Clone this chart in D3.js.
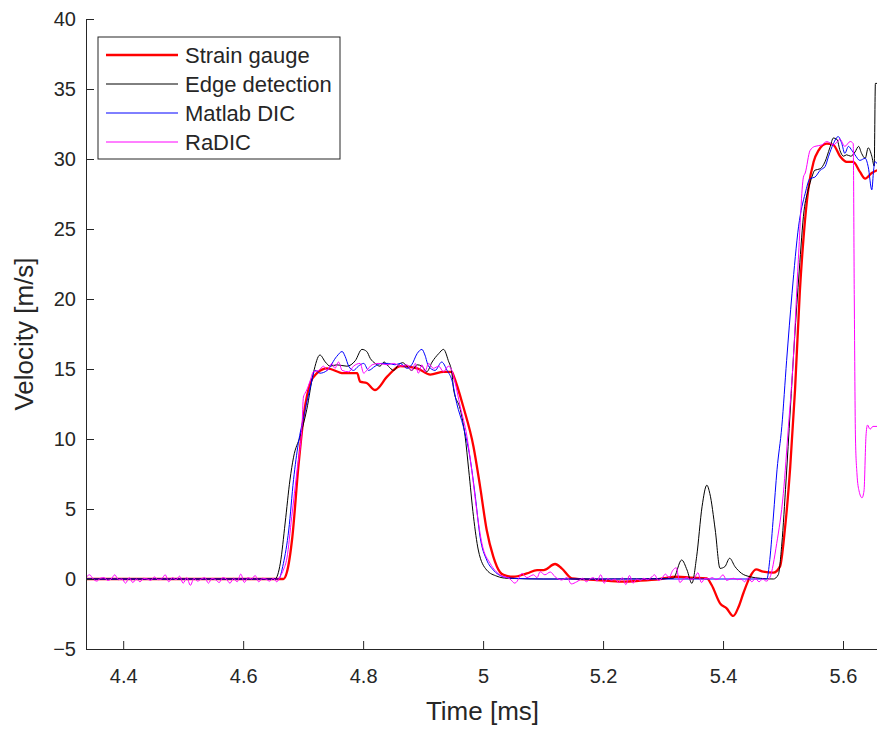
<!DOCTYPE html>
<html>
<head>
<meta charset="utf-8">
<script src="https://cdn.jsdelivr.net/npm/d3@7"></script>
<style>
  body { margin: 0; background: #fff; }
  svg text { font-family: "Liberation Sans", Arial, Helvetica, sans-serif; fill: #262626; }
  .axis path, .axis line { stroke: #262626; stroke-width: 1; }
  .axis text { font-size: 20px; }
  .series { fill: none; stroke-linejoin: round; }
</style>
</head>
<body>
<div class="graph"></div>
<script>
// Strain gauge
var sgTime = [4.338, 4.45, 4.55, 4.62, 4.667, 4.673, 4.682, 4.692, 4.702, 4.712, 4.723, 4.740, 4.767, 4.790, 4.795, 4.806, 4.820, 4.840, 4.862, 4.890,
              4.912, 4.934, 4.948, 4.951, 4.967, 4.984, 4.995, 5.006, 5.017, 5.028, 5.034, 5.050, 5.073, 5.090, 5.101, 5.120, 5.131, 5.148, 5.190, 5.234,
              5.262, 5.295, 5.323, 5.345, 5.373, 5.381, 5.395, 5.406, 5.417, 5.426, 5.434, 5.445, 5.455, 5.467, 5.484, 5.495, 5.503, 5.512, 5.520, 5.528,
              5.535, 5.542, 5.551, 5.559, 5.573, 5.584, 5.595, 5.606, 5.617, 5.628, 5.637, 5.648, 5.657];
var sgVel = [0, 0, 0, 0, 0, 0.5, 3, 8, 12, 14, 14.7, 15.05, 14.7, 14.7, 14.1, 14.0, 13.5, 14.45, 15.2, 15.05,
             14.6, 14.8, 14.8, 14.5, 12.3, 9.45, 6.6, 3.5, 1.6, 0.5, 0.3, 0.16, 0.4, 0.64, 0.64, 1.07, 0.76, 0.05, -0.07, -0.19,
             -0.12, 0, 0.16, 0.1, 0.05, -0.43, -1.74, -2.1, -2.64, -1.98, -1.0, 0.16, 0.69, 0.52, 0.45, 0.9, 3.5, 8, 13.5, 20.5,
             24.8, 27.8, 29.8, 30.6, 31.1, 31.0, 30.2, 29.8, 29.8, 29.1, 28.6, 29.0, 29.2];

// Edge detection
var edTime = [4.338, 4.50, 4.62, 4.653, 4.662, 4.670, 4.678, 4.684, 4.695, 4.706, 4.717, 4.728, 4.737, 4.745, 4.756, 4.773, 4.787, 4.798, 4.806, 4.812,
              4.820, 4.828, 4.835, 4.842, 4.851, 4.859, 4.866, 4.873, 4.881, 4.890, 4.898, 4.906, 4.915, 4.926, 4.934, 4.942, 4.948, 4.951, 4.962, 4.970,
              4.976, 4.984, 4.992, 5.006, 5.023, 5.040, 5.10, 5.20, 5.317, 5.331, 5.340, 5.348, 5.356, 5.365, 5.373, 5.378, 5.387, 5.395, 5.403, 5.411,
              5.420, 5.431, 5.445, 5.462, 5.484, 5.492, 5.498, 5.505, 5.512, 5.519, 5.527, 5.535, 5.542, 5.548, 5.553, 5.562, 5.570, 5.578, 5.584, 5.590,
              5.595, 5.601, 5.606, 5.613, 5.620, 5.626, 5.631, 5.637, 5.642, 5.648, 5.652, 5.654, 5.660];
var edVel = [0, 0, 0, 0, 1.14, 4, 7.07, 8.7, 10.2, 12.1, 14.7, 16.0, 15.5, 15.2, 15.3, 15.2, 15.6, 16.4, 16.25, 15.75,
             15.4, 15.2, 15.5, 15.2, 14.9, 15.3, 15.45, 15.2, 14.9, 15.3, 15.2, 14.8, 15.5, 16.1, 16.4, 15.6, 14.7, 13.5, 12.1, 10.2,
             7.8, 4.45, 2.07, 0.64, 0.2, 0.05, 0, 0, 0.05, 1.36, 0.64, -0.31, 1.6, 5.16, 6.7, 6.1, 3.5, 0.76, 0.88, 1.48,
             0.88, 0.4, 0.16, 0.05, 0, 0.3, 2.5, 7, 12, 17, 22, 26.3, 27.8, 28.7, 29.2, 29.3, 29.8, 30.8, 31.5, 31.4,
             30.6, 30.2, 30.3, 30.2, 30.5, 30.9, 30.4, 30.05, 30.8, 30.2, 29.5, 35.4, 35.4];

// Matlab DIC
var dicTime = [4.338, 4.50, 4.62, 4.659, 4.667, 4.676, 4.684, 4.692, 4.701, 4.712, 4.720, 4.728, 4.740, 4.756, 4.765, 4.770, 4.776, 4.784, 4.792, 4.801,
               4.809, 4.820, 4.831, 4.842, 4.853, 4.862, 4.873, 4.881, 4.890, 4.898, 4.903, 4.909, 4.920, 4.931, 4.940, 4.948, 4.956, 4.967, 4.978, 4.987,
               4.995, 5.006, 5.017, 5.034, 5.051, 5.10, 5.30, 5.473, 5.478, 5.484, 5.490, 5.498, 5.506, 5.515, 5.526, 5.537, 5.545, 5.553, 5.562, 5.570,
               5.576, 5.584, 5.592, 5.598, 5.603, 5.609, 5.615, 5.620, 5.628, 5.637, 5.642, 5.648, 5.651, 5.653, 5.660];
var dicVel = [0, 0, 0, 0, 1.1, 3.5, 7.1, 9.7, 11.6, 13.7, 14.9, 14.7, 14.9, 15.9, 16.25, 15.9, 15.2, 14.9, 15.2, 15.4,
              14.9, 15.2, 15.4, 15.4, 15.3, 15.4, 15.05, 15.3, 16.1, 16.4, 16.0, 15.2, 14.9, 15.5, 14.9, 14.2, 12.55, 10.9, 8.7, 5.9,
              3.0, 1.36, 0.64, 0.16, 0.05, 0, 0, 0, 1.4, 4.5, 7.8, 10.9, 15.6, 20.4, 25.2, 27.55, 28.6, 28.7, 29.2, 29.45,
              30.2, 31.1, 31.6, 31.1, 30.4, 30.9, 30.6, 30.3, 29.9, 30.05, 29.45, 27.8, 29.2, 29.8, 29.5];

// RaDIC
var raTime = [4.338, 4.344, 4.350, 4.356, 4.362, 4.368, 4.374, 4.380, 4.386, 4.392, 4.398, 4.404, 4.410, 4.416, 4.422, 4.428, 4.434, 4.440, 4.446, 4.452,
              4.458, 4.464, 4.470, 4.476, 4.482, 4.488, 4.494, 4.500, 4.506, 4.512, 4.518, 4.524, 4.530, 4.536, 4.542, 4.548, 4.554, 4.560, 4.566, 4.572,
              4.578, 4.584, 4.590, 4.596, 4.602, 4.608, 4.614, 4.620, 4.626, 4.632, 4.638, 4.644, 4.650, 4.656,
              4.662, 4.667, 4.673, 4.681, 4.690, 4.698, 4.7005, 4.703, 4.706, 4.712, 4.717, 4.726, 4.734, 4.740, 4.748, 4.753, 4.759, 4.765, 4.776, 4.784,
              4.795, 4.801, 4.806, 4.815, 4.826, 4.840, 4.851, 4.862, 4.873, 4.881, 4.887, 4.892, 4.898, 4.903, 4.909, 4.917, 4.926, 4.934, 4.942, 4.948,
              4.951, 4.962, 4.973, 4.981, 4.990, 4.998, 5.012, 5.028, 5.045, 5.053, 5.056, 5.065, 5.073, 5.084, 5.090, 5.095, 5.103, 5.112, 5.120, 5.131,
              5.140, 5.147, 5.156,
              5.160, 5.166, 5.172, 5.178, 5.184, 5.190, 5.196, 5.202, 5.208, 5.214, 5.220, 5.226, 5.232, 5.238, 5.244, 5.250, 5.256, 5.262, 5.268, 5.274,
              5.280, 5.286, 5.292, 5.298, 5.304, 5.310, 5.316, 5.322, 5.328, 5.334, 5.340, 5.346, 5.352, 5.358, 5.364, 5.370, 5.376, 5.382, 5.388, 5.394,
              5.400, 5.406, 5.412, 5.418, 5.424, 5.430, 5.436, 5.442, 5.448, 5.454, 5.460, 5.466, 5.472,
              5.478, 5.4895, 5.5005, 5.509, 5.517, 5.5255, 5.534, 5.537, 5.545, 5.553, 5.5645, 5.573, 5.584, 5.595, 5.603, 5.612, 5.617, 5.6188, 5.6208, 5.6233,
              5.6267, 5.6317, 5.635, 5.6383, 5.6408, 5.645, 5.650, 5.660];
var raVel = [0.1, 0.3, 0.0, -0.15, 0.05, 0.1, -0.1, 0.0, 0.3, -0.05, 0.0, -0.3, 0.1, -0.25, 0.0, -0.2, 0.05, 0.0, -0.1, 0.15,
             -0.05, 0.0, 0.3, -0.2, 0.1, -0.05, 0.2, -0.3, 0.1, -0.45, 0.05, -0.15, 0.0, 0.1, -0.3, 0.05, -0.05, -0.25, 0.1, 0.0,
             -0.3, 0.05, -0.2, 0.35, -0.25, 0.1, 0.0, 0.25, -0.2, 0.05, 0.0, -0.15, 0.05, -0.2,
             0.2, 0.64, 1.5, 4.45, 7.8, 10.9, 13.0, 13.25, 13.5, 14.2, 14.8, 14.9, 15.2, 14.9, 15.4, 15.05, 15.5, 14.9, 14.8, 15.2,
             15.4, 14.7, 14.9, 15.3, 15.4, 15.3, 15.4, 15.2, 15.3, 14.9, 15.4, 14.7, 15.3, 14.8, 15.4, 15.05, 15.2, 14.8, 15.2, 14.9,
             14.45, 12.3, 10.2, 7.8, 4.7, 2.55, 1.1, 0.3, 0.0, -0.3, -0.2, 0.4, 0.1, 0.3, 0.1, 0.52, 0.3, 0.5, 0.16, -0.07,
             0.1, -0.35, -0.2,
             -0.1, 0.05, -0.2, 0.0, 0.1, -0.15, 0.3, -0.3, 0.05, -0.1, 0.0, -0.25, 0.1, -0.4, 0.25, -0.3, 0.0, -0.1, 0.05, -0.05,
             0.1, 0.3, -0.1, 0.05, 0.35, 0.1, 0.6, 0.8, -0.25, 0.0, 0.1, -0.05, 0.05, 0.45, -0.25, 0.05, 0.0, 0.1, -0.05, 0.05,
             0.3, -0.1, 0.0, 0.05, -0.05, 0.0, -0.2, 0.1, -0.2, 0.05, -0.2, 0.0, -0.15,
             0.1, 2.55, 6.1, 10.9, 15.6, 22.8, 28.7, 29.0, 30.6, 30.9, 31.0, 31.25, 31.0, 31.4, 30.9, 31.25, 31.1, 20, 10, 7.5,
             6.3, 5.8, 6.3, 10.2, 11.0, 10.7, 10.9, 10.9];

var xTicks = [4.4, 4.6, 4.8, 5, 5.2, 5.4, 5.6];
var yTicks = [-5, 0, 5, 10, 15, 20, 25, 30, 35, 40];
var seriesNames = ["Strain gauge", "Edge detection", "Matlab DIC", "RaDIC"];

var width = 877, height = 731;
var margin = { top: 19, left: 86, bottom: 82 };
var plotRight = 879;

var svg = d3.select('.graph').append('svg')
    .attr('width', width)
    .attr('height', height)
    .style('display', 'block');

var x = d3.scaleLinear()
    .domain([4.338, 5.66])
    .range([margin.left, plotRight]);

var y = d3.scaleLinear()
    .domain([-5, 40])
    .range([height - margin.bottom, margin.top]);

svg.append('clipPath').attr('id', 'plotclip')
    .append('rect')
    .attr('x', margin.left).attr('y', margin.top - 2)
    .attr('width', plotRight - margin.left)
    .attr('height', y(-5) - margin.top + 2);

// series: same order as the legend, later ones on top
var series = [
    { name: seriesNames[0], t: sgTime, v: sgVel, color: '#ff0000', w: 2.3 },
    { name: seriesNames[1], t: edTime, v: edVel, color: '#000000', w: 1 },
    { name: seriesNames[2], t: dicTime, v: dicVel, color: '#0000ff', w: 1 },
    { name: seriesNames[3], t: raTime, v: raVel, color: '#ff00ff', w: 1 }
];

var line = d3.line()
    .curve(d3.curveMonotoneX)
    .x(function (d) { return x(d[0]); })
    .y(function (d) { return y(d[1]); });

var paths = svg.append('g').attr('clip-path', 'url(#plotclip)');
series.forEach(function (s) {
    paths.append('path')
        .datum(d3.zip(s.t, s.v))
        .attr('class', 'series')
        .attr('stroke', s.color)
        .attr('stroke-width', s.w)
        .attr('d', line);
});

// axes, ticks pointing inwards like matlab
svg.append('g')
    .attr('class', 'x axis')
    .attr('transform', 'translate(0,' + y(-5) + ')')
    .call(d3.axisBottom(x).tickValues(xTicks).tickFormat(d3.format('')).tickSizeInner(-8).tickSizeOuter(0).tickPadding(20));

svg.append('g')
    .attr('class', 'y axis')
    .attr('transform', 'translate(' + margin.left + ',0)')
    .call(d3.axisLeft(y).tickValues(yTicks).tickSizeInner(-8).tickSizeOuter(0).tickPadding(10));

svg.selectAll('.axis .domain').attr('stroke', '#262626');

svg.append('text')
    .attr('x', x(4.338) + (plotRight - margin.left) / 2)
    .attr('y', 720)
    .attr('text-anchor', 'middle')
    .style('font-size', '26px')
    .text('Time [ms]');

svg.append('text')
    .attr('transform', 'translate(33,' + y(17.5) + ') rotate(-90)')
    .attr('text-anchor', 'middle')
    .style('font-size', '26px')
    .text('Velocity [m/s]');

// legend
var legend = svg.append('g').attr('transform', 'translate(98,37)');
legend.append('rect')
    .attr('width', 242).attr('height', 122)
    .attr('fill', '#fff').attr('stroke', '#262626').attr('stroke-width', 1);

series.forEach(function (s, i) {
    var ry = 18 + i * 29;
    legend.append('line')
        .attr('x1', 8).attr('x2', 80).attr('y1', ry).attr('y2', ry)
        .attr('stroke', s.color).attr('stroke-width', s.w);
    legend.append('text')
        .attr('x', 87).attr('y', ry + 8)
        .style('font-size', '22px')
        .text(s.name);
});
</script>
</body>
</html>
